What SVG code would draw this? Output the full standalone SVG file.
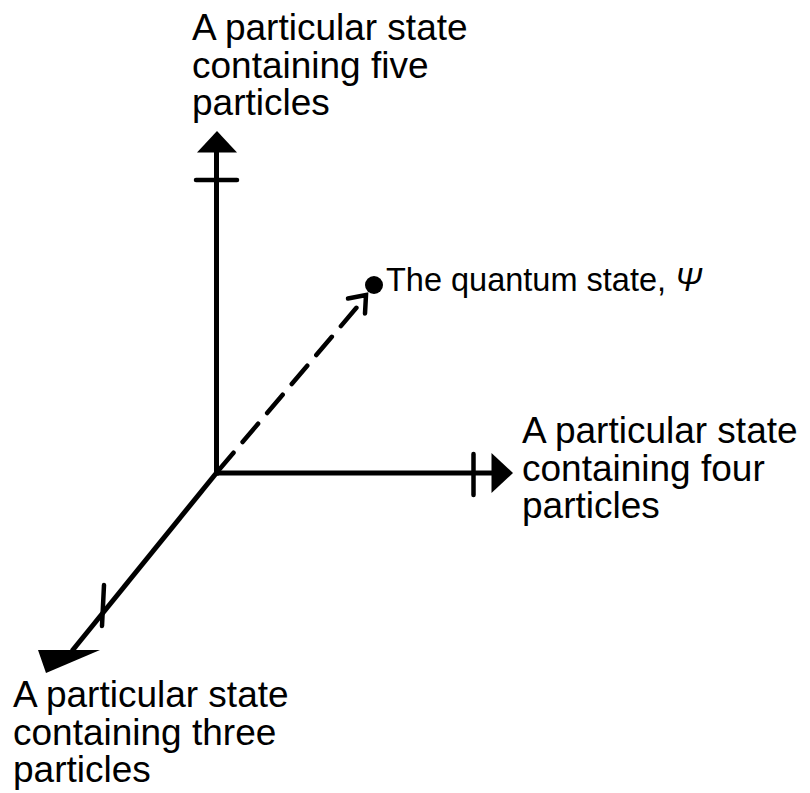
<svg xmlns="http://www.w3.org/2000/svg" width="810" height="793" viewBox="0 0 810 793">
<style>
.lbl{font-family:"Liberation Sans",Arial,sans-serif;font-size:37px;fill:#000}
.q{font-family:"Liberation Sans",Arial,sans-serif;font-size:32.5px;fill:#000}
.ax{stroke:#000;stroke-width:5;fill:none;stroke-linecap:butt}
.tick{stroke:#000;stroke-width:4.5;fill:none;stroke-linecap:round}
.head{fill:#000;stroke:none}
</style>
<rect width="810" height="793" fill="#fff"/>
<g id="connectors">
<line class="ax" x1="216.5" y1="475.5" x2="216.5" y2="150"/>
<polygon class="head" points="197,152.5 237,152.5 217,131"/>
<line class="tick" x1="196" y1="180" x2="237" y2="180"/>
<line class="ax" x1="214" y1="473" x2="495" y2="473"/>
<polygon class="head" points="491.5,453 491.5,493 513,473"/>
<line class="tick" x1="473.5" y1="454" x2="473.5" y2="495"/>
<line class="ax" x1="218" y1="471" x2="72" y2="651"/>
<polygon class="head" points="38,650 100,650 46,673"/>
<line class="tick" x1="104" y1="585" x2="102" y2="626"/>
<line x1="218" y1="471" x2="363" y2="300" stroke="#000" stroke-width="4.5" stroke-dasharray="24,14" stroke-linecap="round"/>
<polyline points="348,298.5 366,295 365,313.5" fill="none" stroke="#000" stroke-width="4.5" stroke-linejoin="miter" stroke-linecap="round"/>
</g>
<g id="node-five">
<text class="lbl" x="192" y="40">A particular state</text>
<text class="lbl" x="192" y="78">containing five</text>
<text class="lbl" x="192" y="115">particles</text>
</g>
<g id="node-four">
<text class="lbl" x="522" y="443">A particular state</text>
<text class="lbl" x="522" y="481">containing four</text>
<text class="lbl" x="522" y="518">particles</text>
</g>
<g id="node-three">
<text class="lbl" x="13" y="707">A particular state</text>
<text class="lbl" x="13" y="745">containing three</text>
<text class="lbl" x="13" y="782">particles</text>
</g>
<g id="node-psi">
<circle cx="374" cy="285" r="9" fill="#000"/>
<text class="q" x="386" y="291">The quantum state, <tspan font-style="italic">Ψ</tspan></text>
</g>
</svg>
